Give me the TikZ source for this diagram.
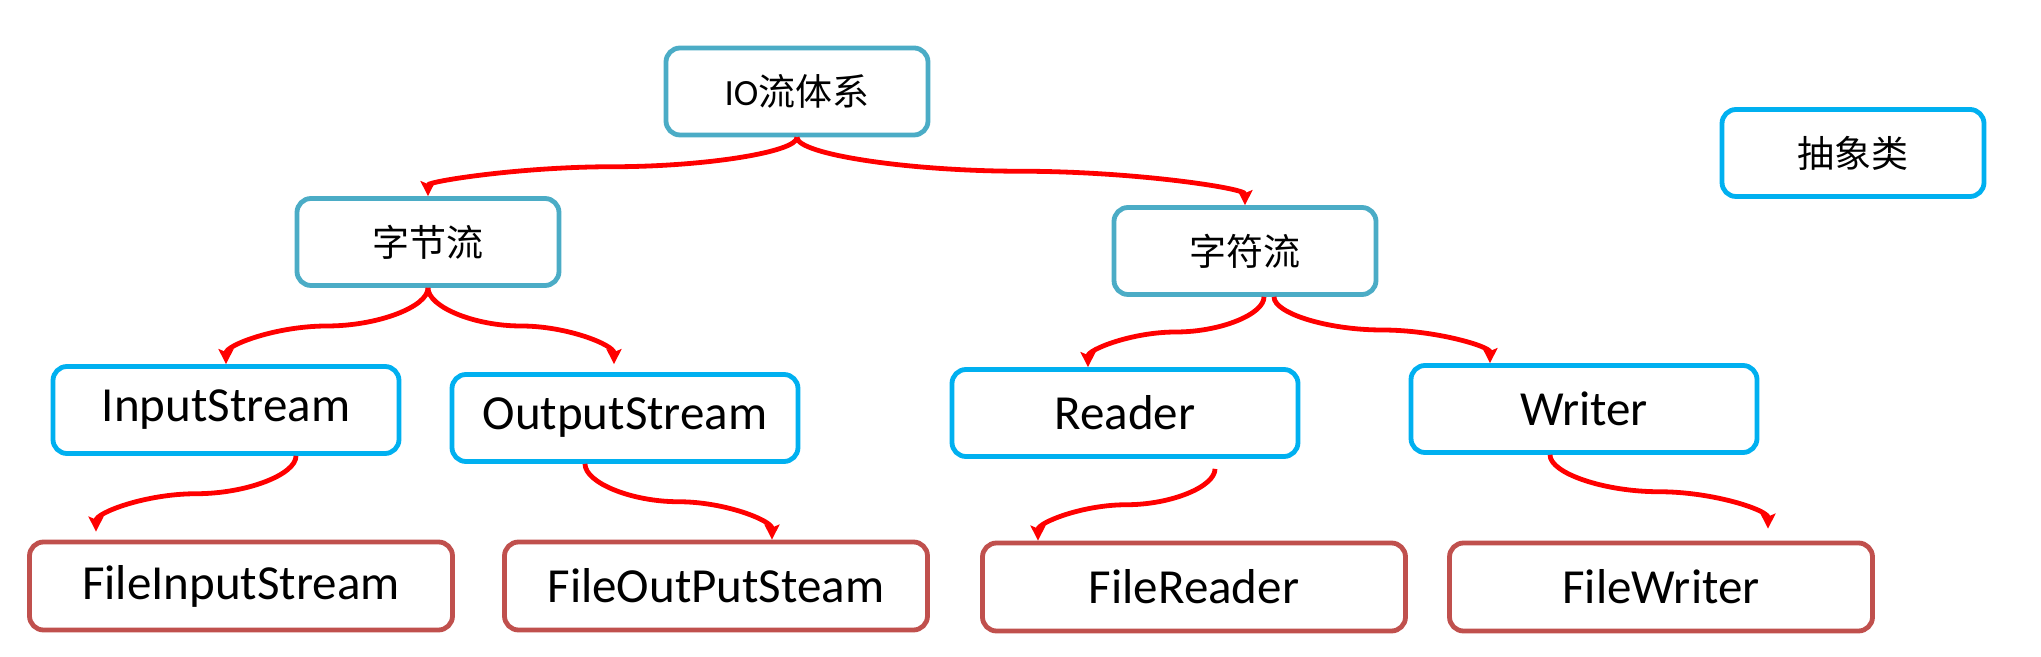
\documentclass[tikz,border=0pt]{standalone}
\usepackage{fontspec}
\setmainfont{Carlito}
\newfontfamily\cjk{Noto Sans CJK SC}
\usetikzlibrary{arrows.meta,calc}
\definecolor{topc}{HTML}{4BACC6}
\definecolor{midc}{HTML}{00B0F0}
\definecolor{botc}{HTML}{C0504D}
\definecolor{arrc}{HTML}{FF0000}
\newcommand\flowlink[2]{%
  \coordinate (mid-#1) at ($(#1)!0.5!(#2)$);
  \draw[conn] (#1) .. controls ($(#1)!0.25!(#1|-#2)$) and ($(#1|-mid-#1)!0.5!(mid-#1)$) .. (mid-#1)
    .. controls ($(mid-#1)!0.5!(#2|-mid-#1)$) and ($(#2)!0.25!(#2|-#1)$) .. (#2);}
\begin{document}
\begin{tikzpicture}[x=0.5pt,y=0.5pt,
  box/.style={draw, line width=2.4pt, rounded corners=7pt, fill=white, inner sep=0pt, align=center},
  cjkbox/.style={box, minimum width=131pt, minimum height=43.5pt, font=\fontsize{18.5}{22}\selectfont},
  topbox/.style={cjkbox, draw=topc},
  absbox/.style={cjkbox, draw=midc},
  midbox/.style={box, draw=midc, minimum width=173pt, minimum height=43.5pt, font=\fontsize{24.5}{29}\selectfont},
  botbox/.style={box, draw=botc, minimum width=211.5pt, minimum height=44pt, font=\fontsize{24.5}{29}\selectfont},
  conn/.style={draw=arrc, line width=2.4pt, -{Stealth[length=7.5pt,width=7.5pt,inset=1.5pt]}}
]
\useasboundingbox (0,0) rectangle (2041,657);

\node[topbox] (io) at (797,565.5) {IO{\cjk 流体系}};
\node[absbox] (abs) at (1853,504) {\cjk 抽象类};
\node[topbox] (zj) at (428,415) {\cjk 字节流};
\node[topbox] (zf) at (1245,406) {\cjk 字符流};

\node[midbox] (ins) at (226,247) {InputStream};
\node[midbox] (outs) at (625,239) {OutputStream};
\node[midbox] (rd) at (1125,244) {Reader};
\node[midbox] (wr) at (1584,248) {Writer};

\node[botbox] (fis) at (241,71) {FileInputStream};
\node[botbox] (fos) at (716,71) {FileOutPutSteam};
\node[botbox] (fr) at (1194,70) {FileReader};
\node[botbox] (fw) at (1661,70) {FileWriter};

% io -> zj, zf
\coordinate (s1) at (io.south);
\coordinate (e1) at (zj.north);
\flowlink{s1}{e1}
\coordinate (s2) at (io.south);
\coordinate (e2) at (zf.north);
\flowlink{s2}{e2}
% zj -> ins, outs
\coordinate (s3) at (zj.south);
\coordinate (e3) at (ins.north);
\flowlink{s3}{e3}
\coordinate (s4) at (zj.south);
\coordinate (e4) at ($(outs.north)+(-11,8)$);
\flowlink{s4}{e4}
% zf -> rd, wr
\coordinate (s5) at ($(zf.south)+(19,0)$);
\coordinate (e5) at ($(rd.north)+(-37,0)$);
\flowlink{s5}{e5}
\coordinate (s6) at ($(zf.south)+(29,0)$);
\coordinate (e6) at ($(wr.north)+(-94,0)$);
\flowlink{s6}{e6}
% ins -> fis
\coordinate (s7) at ($(ins.south)+(70,0)$);
\coordinate (e7) at ($(fis.north)+(-145,8)$);
\flowlink{s7}{e7}
% outs -> fos
\coordinate (s8) at ($(outs.south)+(-40,0)$);
\coordinate (e8) at ($(fos.north)+(56,0)$);
\flowlink{s8}{e8}
% rd -> fr
\coordinate (s9) at ($(rd.south)+(90,-10)$);
\coordinate (e9) at ($(fr.north)+(-156,0)$);
\flowlink{s9}{e9}
% wr -> fw
\coordinate (s10) at ($(wr.south)+(-34,0)$);
\coordinate (e10) at ($(fw.north)+(107,12)$);
\flowlink{s10}{e10}
\end{tikzpicture}
\end{document}
